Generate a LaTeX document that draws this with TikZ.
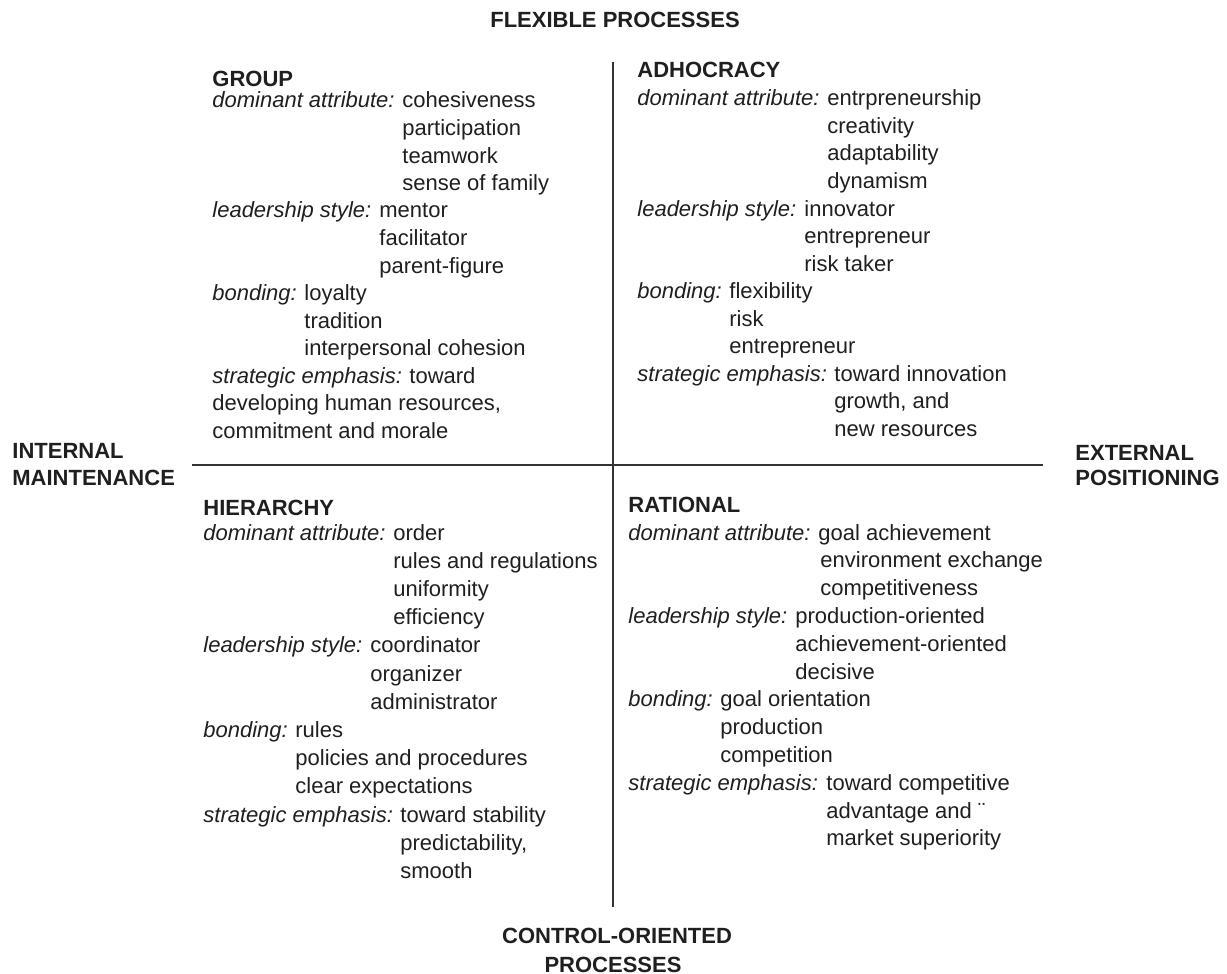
\documentclass[tikz,border=0pt]{standalone}
\usepackage{fontspec}
\setmainfont{Liberation Sans}

\tikzset{
  txt/.style={anchor=base west, inner sep=0pt, text=black!88, font=\fontsize{11}{13}\selectfont},
  lbl/.style={txt, font=\fontsize{11}{13}\selectfont\itshape},
  head/.style={txt, font=\fontsize{11}{13}\selectfont\bfseries},
  axislbl/.style={head, anchor=base},
  axis/.style={line width=1pt, black!80}
}

\begin{document}
\begin{tikzpicture}[x=0.5pt, y=-0.5pt]
\useasboundingbox (0,0) rectangle (1227,974);

% axes
\coordinate (top) at (613,62);
\coordinate (bottom) at (613,907);
\coordinate (left) at (192,465);
\coordinate (right) at (1043,465);
\draw[axis] (top) -- (bottom);
\draw[axis] (left) -- (right);

% axis labels
\node[axislbl] (flex) at (615,28) {FLEXIBLE PROCESSES};
\node[axislbl] (ctrl1) at (617,943) {CONTROL-ORIENTED};
\node[axislbl] (ctrl2) at (613,972) {PROCESSES};
\node[head] (int1) at (12,458) {INTERNAL};
\node[head] (int2) at (12,485) {MAINTENANCE};
\node[head] (ext1) at (1075,460) {EXTERNAL};
\node[head] (ext2) at (1075,485) {POSITIONING};

% Group (top left)
\node[head] (group) at (212,87) {GROUP};
\node[lbl] (g-dom) at (212,108) {dominant attribute:};
\foreach \t [count=\i from 0] in {cohesiveness,participation,teamwork,sense of family}
  \node[txt] (g-dom\i) at (402,{108+27.5*\i}) {\t};
\node[lbl] (g-lead) at (212,218) {leadership style:};
\foreach \t [count=\i from 0] in {mentor,facilitator,parent-figure}
  \node[txt] (g-lead\i) at (379,{218+27.5*\i}) {\t};
\node[lbl] (g-bond) at (212,300.5) {bonding:};
\foreach \t [count=\i from 0] in {loyalty,tradition,interpersonal cohesion}
  \node[txt] (g-bond\i) at (304,{300.5+27.5*\i}) {\t};
\node[lbl] (g-strat) at (212,383) {strategic emphasis:};
\node[txt] (g-strat0) at (409,383) {toward};
\node[txt] (g-strat1) at (212,410.5) {developing human resources,};
\node[txt] (g-strat2) at (212,438) {commitment and morale};

% Adhocracy (top right)
\node[head] (adhoc) at (637,78) {ADHOCRACY};
\node[lbl] (a-dom) at (637,106) {dominant attribute:};
\foreach \t [count=\i from 0] in {entrpreneurship,creativity,adaptability,dynamism}
  \node[txt] (a-dom\i) at (827,{106+27.5*\i}) {\t};
\node[lbl] (a-lead) at (637,216) {leadership style:};
\foreach \t [count=\i from 0] in {innovator,entrepreneur,risk taker}
  \node[txt] (a-lead\i) at (804,{216+27.5*\i}) {\t};
\node[lbl] (a-bond) at (637,298.5) {bonding:};
\foreach \t [count=\i from 0] in {flexibility,risk,entrepreneur}
  \node[txt] (a-bond\i) at (729,{298.5+27.5*\i}) {\t};
\node[lbl] (a-strat) at (637,381) {strategic emphasis:};
\foreach \t [count=\i from 0] in {toward innovation,{growth, and},new resources}
  \node[txt] (a-strat\i) at (834,{381+27.5*\i}) {\t};

% Hierarchy (bottom left)
\node[head] (hier) at (203,515) {HIERARCHY};
\node[lbl] (h-dom) at (203,540) {dominant attribute:};
\foreach \t [count=\i from 0] in {order,rules and regulations,uniformity,efficiency}
  \node[txt] (h-dom\i) at (393,{540+28.2*\i}) {\t};
\node[lbl] (h-lead) at (203,652.8) {leadership style:};
\foreach \t [count=\i from 0] in {coordinator,organizer,administrator}
  \node[txt] (h-lead\i) at (370,{652.8+28.2*\i}) {\t};
\node[lbl] (h-bond) at (203,737.4) {bonding:};
\foreach \t [count=\i from 0] in {rules,policies and procedures,clear expectations}
  \node[txt] (h-bond\i) at (295,{737.4+28.2*\i}) {\t};
\node[lbl] (h-strat) at (203,822) {strategic emphasis:};
\foreach \t [count=\i from 0] in {toward stability,{predictability,},smooth}
  \node[txt] (h-strat\i) at (400,{822+28.2*\i}) {\t};

% Rational (bottom right)
\node[head] (rational) at (628,512) {RATIONAL};
\node[lbl] (r-dom) at (628,540) {dominant attribute:};
\node[txt] (r-dom0) at (818,540) {goal achievement};
\foreach \t [count=\i from 1] in {environment exchange,competitiveness}
  \node[txt] (r-dom\i) at (820,{540+27.8*\i}) {\t};
\node[lbl] (r-lead) at (628,623.4) {leadership style:};
\foreach \t [count=\i from 0] in {production-oriented,achievement-oriented,decisive}
  \node[txt] (r-lead\i) at (795,{623.4+27.8*\i}) {\t};
\node[lbl] (r-bond) at (628,706.8) {bonding:};
\foreach \t [count=\i from 0] in {goal orientation,production,competition}
  \node[txt] (r-bond\i) at (720,{706.8+27.8*\i}) {\t};
\node[lbl] (r-strat) at (628,790.2) {strategic emphasis:};
\foreach \t [count=\i from 0] in {toward competitive,advantage and ¨,market superiority}
  \node[txt] (r-strat\i) at (826,{790.2+27.8*\i}) {\t};
\end{tikzpicture}
\end{document}
